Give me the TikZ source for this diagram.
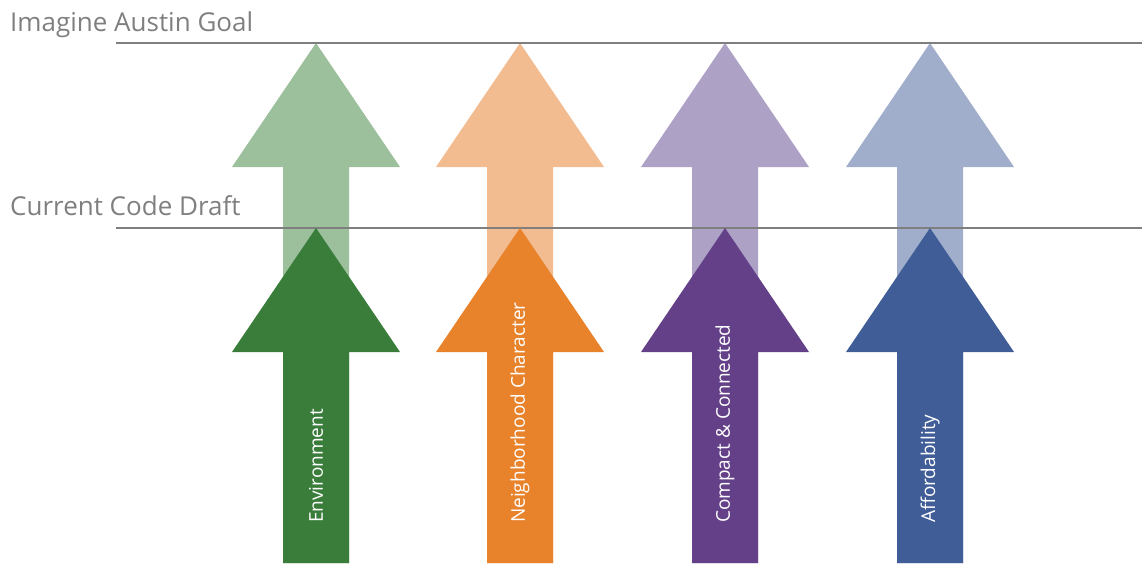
\documentclass[tikz,border=0pt]{standalone}
\usepackage{fontspec}
\setmainfont{Open Sans}
\usepackage{xcolor}
\usepackage{tikz}
\usetikzlibrary{positioning}

\definecolor{levelgray}{HTML}{7F7F7F}
\definecolor{envdark}{HTML}{3A7D3B}
\definecolor{envlight}{HTML}{9CBF9C}
\definecolor{nbhdark}{HTML}{E8822B}
\definecolor{nbhlight}{HTML}{F3BC90}
\definecolor{cmpdark}{HTML}{634088}
\definecolor{cmplight}{HTML}{ADA1C6}
\definecolor{affdark}{HTML}{405D98}
\definecolor{afflight}{HTML}{A0AECB}

\tikzset{
  levelline/.style={levelgray, line width=1.4pt},
  leveltext/.style={levelgray, font=\fontsize{26}{30}\selectfont, anchor=base west, inner sep=0pt},
  arrowtext/.style={white, font=\fontsize{19}{22}\selectfont, rotate=90, anchor=west, inner sep=0pt}
}

\begin{document}
\begin{tikzpicture}[x=1pt,y=-1pt]
    \useasboundingbox (0,0) rectangle (1142,563);
    % Level labels
    \node[leveltext] (goal) at (10,31) {Imagine Austin Goal};
    \node[leveltext] (draft) at (10,215) {Current Code Draft};
    % Goal arrows (light)
    \foreach \cx/\lt in {316/envlight,520/nbhlight,725/cmplight,930/afflight}
        \fill[\lt] (\cx,43) -- (\cx+84,167) -- (\cx+33,167) -- (\cx+33,563)
            -- (\cx-33,563) -- (\cx-33,167) -- (\cx-84,167) -- cycle;
    % Level lines
    \coordinate (goalend) at (1142,43);
    \coordinate (draftend) at (1142,228);
    \draw[levelline] (116,43) -- (goalend);
    \draw[levelline] (116,228) -- (draftend);
    % Draft arrows (dark) with labels
    \foreach \cx/\dk/\lbl [count=\i] in {316/envdark/Environment,520/nbhdark/Neighborhood Character,725/cmpdark/Compact \& Connected,930/affdark/Affordability}
    {
        \fill[\dk] (\cx,228) -- (\cx+84,352) -- (\cx+33,352) -- (\cx+33,563)
            -- (\cx-33,563) -- (\cx-33,352) -- (\cx-84,352) -- cycle;
        \node[arrowtext] (label\i) at (\cx,523) {\lbl};
    }
\end{tikzpicture}
\end{document}
